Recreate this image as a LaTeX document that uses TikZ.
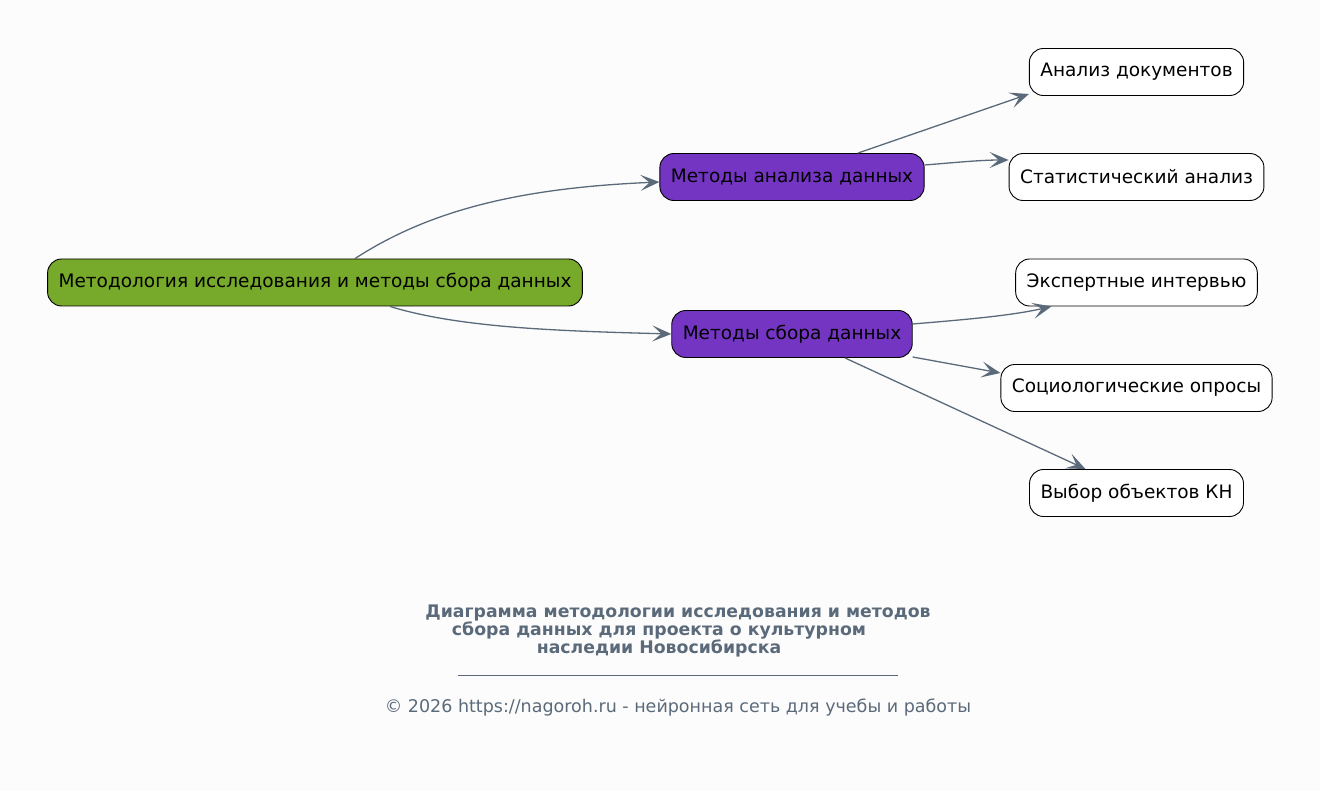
\documentclass[tikz,border=0pt]{standalone}
\usepackage{fontspec}
\setmainfont{DejaVu Sans}
\usetikzlibrary{arrows.meta}
\definecolor{bgcol}{HTML}{FCFCFC}
\definecolor{rootgreen}{HTML}{77A92A}
\definecolor{midpurple}{HTML}{7435C2}
\definecolor{edgegray}{HTML}{5B6A7A}
\tikzset{
  box/.style={draw=black, rounded corners=14pt, minimum height=47pt, inner xsep=11pt, font=\fontsize{18.5}{22}\selectfont, line width=0.9pt},
  leaf/.style={box, fill=white},
  link/.style={draw=edgegray, line width=1.3pt, -{Stealth[length=19pt,width=16pt,inset=9pt]}},
}

\begin{document}
\begin{tikzpicture}[x=1pt,y=-1pt]
    \fill[bgcol] (0,0) rectangle (1320,791);
    \useasboundingbox (0,0) rectangle (1320,791);
    \node[box, fill=rootgreen] at (315, 282.5) (root) {Методология исследования и методы сбора данных};
    \node[box, fill=midpurple] at (792, 177)   (ana)  {Методы анализа данных};
    \node[box, fill=midpurple] at (792, 334)   (col)  {Методы сбора данных};
    \node[leaf] at (1136.5, 72)    (docs)  {Анализ документов};
    \node[leaf] at (1136.5, 177)   (stat)  {Статистический анализ};
    \node[leaf] at (1136.5, 282.5) (expert){Экспертные интервью};
    \node[leaf] at (1136.5, 388)   (polls) {Социологические опросы};
    \node[leaf] at (1136.5, 493)   (pick)  {Выбор объектов КН};
    \draw [link] ([xshift=40pt]root.north) .. controls (430,210) and (520,188) .. ([yshift=-5pt]ana.west);
    \draw [link] ([xshift=75pt]root.south) .. controls (460,328) and (560,331) .. (col.west);
    \draw [link] ([xshift=66pt]ana.north) -- ([yshift=-22pt]docs.west);
    \draw [link] ([yshift=12pt]ana.east) .. controls (950,163) and (980,160) .. ([yshift=17pt]stat.west);
    \draw [link] ([yshift=10pt]col.east) .. controls (960,320) and (1010,316) .. ([xshift=-85pt]expert.south);
    \draw [link] ([yshift=-23pt]col.east) -- ([yshift=15pt]polls.west);
    \draw [link] ([xshift=53pt]col.south) -- ([xshift=-51pt]pick.north);
    \node[text=edgegray, align=center, font=\bfseries\fontsize{17.3}{18}\selectfont] at (678, 631) (title)
      {Диаграмма методологии исследования и методов\\
       сбора данных для проекта о культурном\rule{38pt}{0pt}\\
       наследии Новосибирска\rule{38pt}{0pt}};
    \node[inner sep=0pt] at (678, 675) (rule) {\textcolor{edgegray}{\rule{440pt}{0.8pt}}};
    \node[text=edgegray, font=\fontsize{17.5}{19}\selectfont] at (678, 708) (copy)
      {© 2026 https://nagoroh.ru - нейронная сеть для учебы и работы};
\end{tikzpicture}
\end{document}
